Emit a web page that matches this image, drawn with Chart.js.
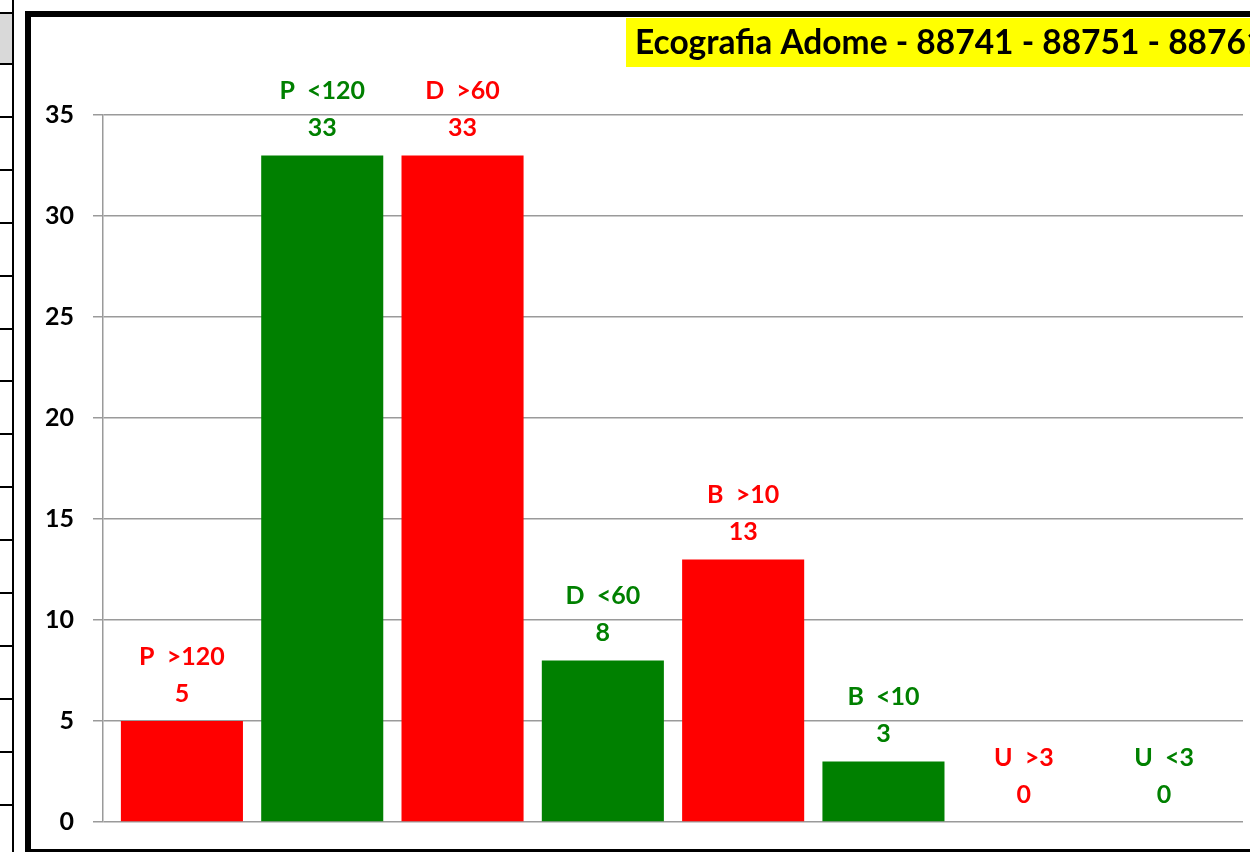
<!DOCTYPE html>
<html>
<head>
<meta charset="utf-8">
<script src="https://cdn.jsdelivr.net/npm/chart.js@4/dist/chart.umd.min.js"></script>
<style>
  body { margin: 0; background: #fff; }
  #wrap { width: 1250px; height: 852px; overflow: hidden; }
</style>
</head>
<body>
<div id="wrap"><canvas id="chart" width="1250" height="852"></canvas></div>
<script>
var categories = ["P  >120", "P  <120", "D  >60", "D  <60", "B  >10", "B  <10", "U  >3", "U  <3"];
var values = [5, 33, 33, 8, 13, 3, 0, 0];
var yTicks = [0, 5, 10, 15, 20, 25, 30, 35];
var title = "Ecografia Adome - 88741 - 88751 - 88761";

var RED = "#ff0000", GREEN = "#008000";
var barColors = categories.map(function(c, i){ return i % 2 === 0 ? RED : GREEN; });
var FONT = "Lato, 'Open Sans', sans-serif";

// sheet strip on the left + chart frame + title box
var framePlugin = {
    id: 'frame',
    beforeDraw: function(chart){
        var c = chart.ctx;
        c.save();
        c.fillStyle = "#fff";
        c.fillRect(0, 0, chart.width, chart.height);
        // spreadsheet column strip
        c.fillStyle = "#d9d9d9";
        c.fillRect(0, 13, 12, 50);
        c.fillStyle = "#000";
        c.fillRect(12, 0, 2, chart.height);
        c.fillRect(0, 12, 14, 2);
        for (var y = 63; y < chart.height; y += 52.9) {
            c.fillRect(0, Math.round(y), 13, 2);
        }
        // chart frame
        c.lineWidth = 6;
        c.strokeStyle = "#000";
        c.strokeRect(28, 14, 1300, 838);
        c.restore();
    },
    afterDraw: function(chart){
        var c = chart.ctx;
        c.save();
        c.fillStyle = "#ffff00";
        c.fillRect(626, 18, 700, 49);
        c.fillStyle = "#000";
        c.font = "bold 33.5px " + FONT;
        c.textBaseline = "middle";
        c.textAlign = "left";
        c.fillText(title, 635, 43);
        c.restore();
    }
};

// two-line labels above every bar
var labelPlugin = {
    id: 'barLabels',
    afterDatasetsDraw: function(chart){
        var c = chart.ctx;
        var meta = chart.getDatasetMeta(0);
        c.save();
        c.font = "bold 25px " + FONT;
        c.textAlign = "center";
        c.textBaseline = "middle";
        meta.data.forEach(function(bar, i){
            c.fillStyle = barColors[i];
            c.fillText(categories[i], bar.x, bar.y - 64);
            c.fillText(String(values[i]), bar.x, bar.y - 27);
        });
        c.restore();
    }
};

var ctx = document.getElementById("chart");
var chartParams = {
    type: 'bar',
    data: {
        datasets: [{
            data: values.map(function(v, i){ return {x: i, y: v}; }),
            backgroundColor: barColors,
            borderWidth: 0,
            barPercentage: 0.87,
            categoryPercentage: 1
        }]
    },
    options: {
        responsive: false,
        animation: false,
        devicePixelRatio: 1,
        layout: { padding: { top: 115, bottom: 30, left: 0, right: 7 } },
        plugins: { legend: { display: false }, tooltip: { enabled: false }, title: { display: false } },
        scales: {
            x: {
                type: 'linear',
                offset: false,
                min: -0.5625,
                max: categories.length - 0.4375,
                grid: { display: false },
                border: { display: false },
                ticks: { display: false },
                afterBuildTicks: function(s){
                    s.ticks = categories.map(function(c, i){ return {value: i}; });
                },
                afterFit: function(s){ s.height = 0; s.paddingLeft = 0; s.paddingRight = 0; }
            },
            y: {
                min: 0,
                max: 35,
                afterBuildTicks: function(s){
                    s.ticks = yTicks.map(function(v){ return {value: v}; });
                },
                afterFit: function(s){ s.width = 103; s.paddingTop = 0; s.paddingBottom = 0; },
                border: { display: true, color: "#9a9a9a", width: 1.5 },
                grid: { color: "#9a9a9a", lineWidth: 1.5, tickLength: 10, drawTicks: true },
                ticks: {
                    color: "#000",
                    padding: 19,
                    font: { family: FONT, size: 25, weight: 'bold' }
                }
            }
        }
    },
    plugins: [framePlugin, labelPlugin]
};

var myChart = new Chart(ctx, chartParams);
</script>
</body>
</html>
